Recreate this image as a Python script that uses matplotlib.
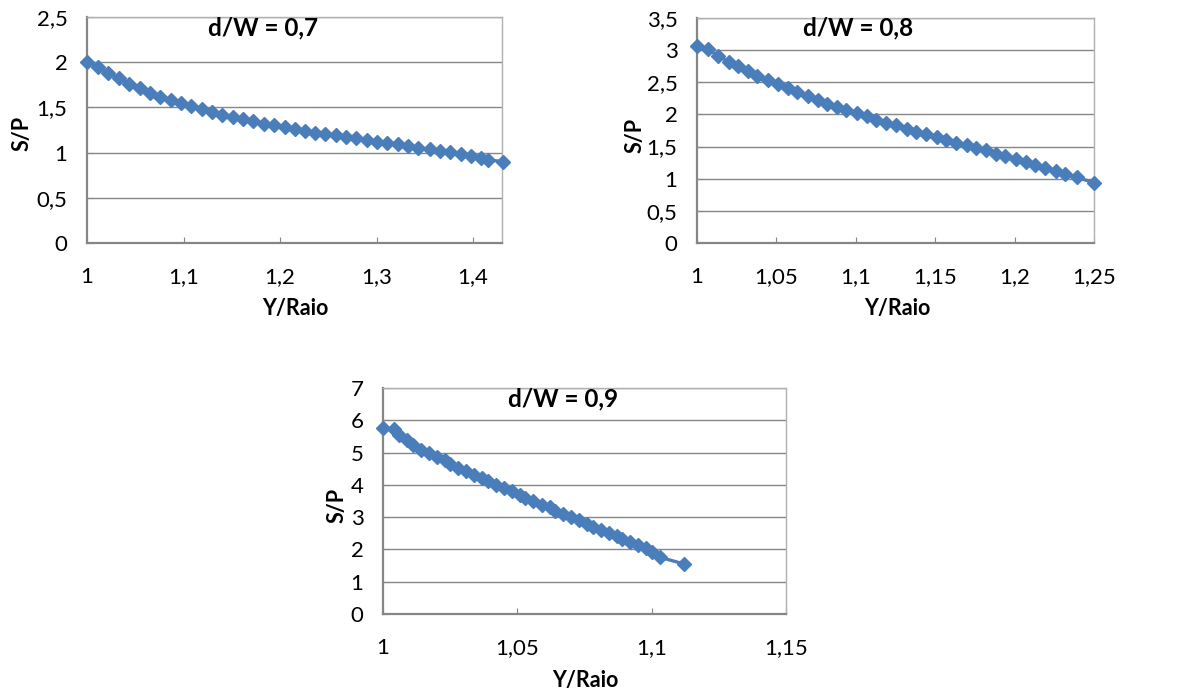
import matplotlib.pyplot as plt
from matplotlib.ticker import MultipleLocator, FuncFormatter

plt.rcParams['font.family'] = ['Lato', 'DejaVu Sans']

# d/W = 0,7
x07 = [1.000, 1.011, 1.022, 1.033, 1.044, 1.055, 1.065, 1.076, 1.087, 1.097,
       1.108, 1.119, 1.129, 1.140, 1.151, 1.162, 1.172, 1.183, 1.194, 1.205,
       1.215, 1.226, 1.236, 1.247, 1.258, 1.268, 1.279, 1.290, 1.301, 1.311,
       1.322, 1.333, 1.343, 1.355, 1.366, 1.376, 1.387, 1.398, 1.408, 1.415,
       1.431]
y07 = [2.00, 1.95, 1.88, 1.82, 1.76, 1.71, 1.66, 1.62, 1.58, 1.55,
       1.51, 1.48, 1.45, 1.42, 1.39, 1.37, 1.35, 1.32, 1.30, 1.28,
       1.26, 1.24, 1.22, 1.21, 1.19, 1.17, 1.16, 1.14, 1.12, 1.11,
       1.09, 1.07, 1.05, 1.04, 1.02, 1.01, 0.98, 0.96, 0.94, 0.92,
       0.90]

# d/W = 0,8
x08 = [1.000, 1.007, 1.013, 1.020, 1.026, 1.032, 1.038, 1.045, 1.051, 1.057,
       1.063, 1.070, 1.076, 1.082, 1.088, 1.094, 1.101, 1.107, 1.113, 1.119,
       1.125, 1.132, 1.138, 1.144, 1.151, 1.157, 1.163, 1.170, 1.176, 1.182,
       1.188, 1.194, 1.201, 1.207, 1.213, 1.219, 1.226, 1.232, 1.239, 1.250]
y08 = [3.07, 3.02, 2.91, 2.82, 2.75, 2.67, 2.60, 2.53, 2.47, 2.41,
       2.35, 2.28, 2.23, 2.17, 2.12, 2.07, 2.02, 1.97, 1.92, 1.87,
       1.83, 1.78, 1.73, 1.69, 1.65, 1.61, 1.56, 1.52, 1.48, 1.44,
       1.39, 1.35, 1.31, 1.26, 1.22, 1.17, 1.12, 1.08, 1.02, 0.94]

# d/W = 0,9
x09 = [1.000, 1.004, 1.006, 1.009, 1.011, 1.014, 1.017, 1.020, 1.023, 1.025,
       1.028, 1.031, 1.034, 1.037, 1.039, 1.042, 1.045, 1.048, 1.051, 1.053,
       1.056, 1.059, 1.062, 1.064, 1.067, 1.070, 1.073, 1.076, 1.078, 1.081,
       1.084, 1.087, 1.089, 1.092, 1.095, 1.098, 1.100, 1.103, 1.112]
y09 = [5.76, 5.73, 5.55, 5.40, 5.24, 5.09, 4.98, 4.86, 4.76, 4.65,
       4.53, 4.42, 4.31, 4.20, 4.11, 4.00, 3.91, 3.81, 3.70, 3.60,
       3.50, 3.39, 3.30, 3.20, 3.10, 3.00, 2.90, 2.80, 2.71, 2.61,
       2.51, 2.42, 2.32, 2.22, 2.13, 2.03, 1.92, 1.76, 1.55]

W, H = 1186, 691
blue = '#4A7EBB'
grey = '#868686'


def comma(v, pos):
    s = ('%.2f' % v).rstrip('0').rstrip('.')
    return s.replace('.', ',')


def panel(fig, box, x, y, xlim, xstep, ylim, ystep, title, title_xy, ylab_xy, xlab_xy):
    l, r, t, b = box
    ax = fig.add_axes([l / W, 1 - b / H, (r - l) / W, (b - t) / H])
    ax.plot(x, y, color=blue, lw=2.4, marker='D', ms=7.5, mec=blue, mfc=blue,
            clip_on=False, zorder=3)
    ax.set_xlim(*xlim)
    ax.set_ylim(*ylim)
    ax.xaxis.set_major_locator(MultipleLocator(xstep))
    ax.yaxis.set_major_locator(MultipleLocator(ystep))
    ax.xaxis.set_major_formatter(FuncFormatter(comma))
    ax.yaxis.set_major_formatter(FuncFormatter(comma))
    ax.grid(axis='y', color=grey, lw=1)
    ax.set_axisbelow(True)
    for s in ['top', 'right']:
        ax.spines[s].set_color('#b0b0b0')
        ax.spines[s].set_linewidth(1)
    for s in ['left', 'bottom']:
        ax.spines[s].set_color(grey)
        ax.spines[s].set_linewidth(1.6)
    ax.tick_params(axis='x', direction='in', length=4, color=grey, pad=17, labelsize=16)
    ax.tick_params(axis='y', direction='in', length=4, color=grey, pad=14, labelsize=16)
    fig.text(title_xy[0] / W, 1 - title_xy[1] / H, title, ha='center', va='center',
             fontsize=17.5, fontweight='bold')
    fig.text(ylab_xy[0] / W, 1 - ylab_xy[1] / H, 'S/P', ha='center', va='center',
             rotation=90, fontsize=15.5, fontweight='bold')
    fig.text(xlab_xy[0] / W, 1 - xlab_xy[1] / H, 'Y/Raio', ha='center', va='center',
             fontsize=15.5, fontweight='bold')
    return ax


fig = plt.figure(figsize=(W / 100, H / 100), dpi=100)

panel(fig, (87, 502, 17, 243), x07, y07, (1, 1.43), 0.1, (0, 2.5), 0.5,
      'd/W = 0,7', (263, 28), (22, 133), (295, 309))
panel(fig, (697, 1094, 18, 243), x08, y08, (1, 1.25), 0.05, (0, 3.5), 0.5,
      'd/W = 0,8', (858, 28), (635, 135), (897, 309))
panel(fig, (383, 786, 388, 614), x09, y09, (1, 1.15), 0.05, (0, 7), 1,
      'd/W = 0,9', (563, 399), (337, 505), (585, 680))

fig.savefig('out.png', dpi=100)
